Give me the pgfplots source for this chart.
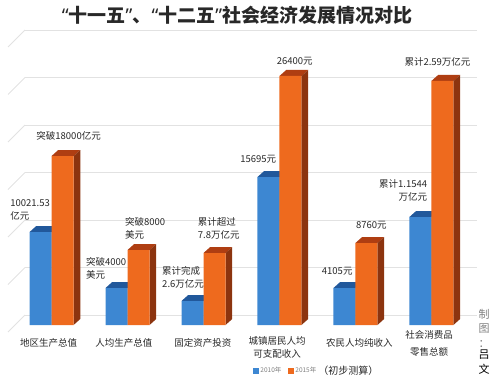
\documentclass[border=0pt]{standalone}
\usepackage{pgfplots}
\pgfplotsset{compat=1.18}
\usepackage{fontspec}
\setmainfont{Noto Sans CJK SC}
\newfontfamily\latinq{Noto Sans}
\definecolor{bfront}{RGB}{61,135,210}
\definecolor{btop}{RGB}{33,88,155}
\definecolor{bside}{RGB}{40,95,160}
\definecolor{ofront}{RGB}{238,106,30}
\definecolor{otop}{RGB}{175,62,18}
\definecolor{oside}{RGB}{140,52,15}
\definecolor{gridc}{RGB}{226,226,226}
\definecolor{txt}{RGB}{40,40,40}
\newcommand\threeD[4]{%
  \pgfmathsetmacro\xL{#1}\pgfmathsetmacro\xR{#1+0.2895}%
  \pgfmathsetmacro\xLd{#1+0.088}\pgfmathsetmacro\xRd{#1+0.2895+0.088}%
  \pgfmathsetmacro\hT{#2+6}%
  \edef\tmp{\noexpand\addplot[draw=none,fill=#3,forget plot,mark=none] coordinates {(\xL,#2) (\xR,#2) (\xRd,\hT) (\xLd,\hT) (\xL,#2)};
    \noexpand\addplot[draw=none,fill=#4,forget plot,mark=none] coordinates {(\xR,0) (\xRd,6) (\xRd,\hT) (\xR,#2) (\xR,0)};}%
  \tmp}
\newcommand\lab{\fontsize{9.5}{13}\selectfont}
\begin{document}
\begin{tikzpicture}
\path[use as bounding box] (0,0) rectangle (494pt,375pt);
\node[font=\fontsize{19}{21}\selectfont\bfseries, text=txt, inner sep=0pt] at (237pt,360pt) {{\latinq “}十一五{\latinq ”}、{\latinq “}十二五{\latinq ”}社会经济发展情况对比};
\begin{axis}[at={(25pt,50pt)}, anchor=south west, scale only axis,
  width=452pt, height=300pt, xmin=-0.35, xmax=5.6, ymin=0, ymax=300,
  axis line style={draw=none}, major tick length=0pt,
  xtick=\empty, ytick={10,57.5,105,152.5,200,247.5,295}, yticklabels={},
  ymajorgrids, grid style={gridc, line width=0.8pt},
  clip=false,
  legend style={at={(axis description cs:0.505,-0.153)}, anchor=west, draw=none, fill=none,
    legend columns=-1, font=\fontsize{6.5}{7}\selectfont, text=gray, inner sep=0pt,
    /tikz/every even column/.append style={column sep=5pt}},
  legend cell align=left]
% 3D faces of 2010 bars
\threeD{-0.2895}{93}{btop}{bside}
\threeD{0.7105}{37}{btop}{bside}
\threeD{1.7105}{24}{btop}{bside}
\threeD{2.7105}{148}{btop}{bside}
\threeD{3.7105}{37}{btop}{bside}
\threeD{4.7105}{108}{btop}{bside}
\addplot[ybar, bar width=22pt, bar shift=-11pt, fill=bfront, draw=none, forget plot]
  coordinates {(0,93) (1,37) (2,24) (3,148) (4,37) (5,108)};
% 3D faces of 2015 bars
\threeD{0}{169}{otop}{oside}
\threeD{1}{75}{otop}{oside}
\threeD{2}{72}{otop}{oside}
\threeD{3}{249}{otop}{oside}
\threeD{4}{82}{otop}{oside}
\threeD{5}{244}{otop}{oside}
\addplot[ybar, bar width=22pt, bar shift=11pt, fill=ofront, draw=none, forget plot]
  coordinates {(0,169) (1,75) (2,72) (3,249) (4,82) (5,244)};
\addlegendimage{legend image code/.code={\fill[bfront] (0pt,-2.3pt) rectangle (4.6pt,2.3pt);}}
\addlegendentry{2010年}
\addlegendimage{legend image code/.code={\fill[ofront] (0pt,-2.3pt) rectangle (4.6pt,2.3pt);}}
\addlegendentry{2015年}
\addlegendimage{empty legend}
\addlegendentry{\hspace*{-7pt}\fontsize{10}{10}\selectfont\textcolor{txt}{（初步测算）}}
% grid diagonals
\draw[gridc, line width=0.8pt] (axis cs:-0.35,10) -- ++(-17pt,-17pt);
\draw[gridc, line width=0.8pt] (axis cs:-0.35,57.5) -- ++(-17pt,-17pt);
\draw[gridc, line width=0.8pt] (axis cs:-0.35,105) -- ++(-17pt,-17pt);
\draw[gridc, line width=0.8pt] (axis cs:-0.35,152.5) -- ++(-17pt,-17pt);
\draw[gridc, line width=0.8pt] (axis cs:-0.35,200) -- ++(-17pt,-17pt);
\draw[gridc, line width=0.8pt] (axis cs:-0.35,247.5) -- ++(-17pt,-17pt);
\draw[gridc, line width=0.8pt] (axis cs:-0.35,295) -- ++(-17pt,-17pt);
% data labels
\node[font=\lab, text=txt] at (axis cs:0.224,189) {突破18000亿元};
\node[font=\lab, text=txt, anchor=west, align=left] at (axis cs:-0.59,115) {10021.53\\亿元};
\node[font=\lab, text=txt, anchor=west, align=left] at (axis cs:0.92,97) {突破8000\\美元};
\node[font=\lab, text=txt, anchor=west, align=left] at (axis cs:0.408,57) {突破4000\\美元};
\node[font=\lab, text=txt, anchor=west, align=left] at (axis cs:1.88,97) {累计超过\\7.8万亿元};
\node[font=\lab, text=txt, anchor=west, align=left] at (axis cs:1.41,48) {累计完成\\2.6万亿元};
\node[font=\lab, text=txt] at (axis cs:3.2,264) {26400元};
\node[font=\lab, text=txt] at (axis cs:2.72,166) {15695元};
\node[font=\lab, text=txt] at (axis cs:5.08,263) {累计2.59万亿元};
\node[font=\lab, text=txt, anchor=east, align=right] at (axis cs:4.99,135) {累计1.1544\\万亿元};
\node[font=\lab, text=txt] at (axis cs:4.21,100) {8760元};
\node[font=\lab, text=txt] at (axis cs:3.76,54) {4105元};
% category labels
\node[font=\lab, text=txt] at (axis cs:-0.04,-18) {地区生产总值};
\node[font=\lab, text=txt] at (axis cs:0.95,-18) {人均生产总值};
\node[font=\lab, text=txt] at (axis cs:1.99,-18) {固定资产投资};
\node[font=\lab, text=txt] at (axis cs:2.97,-16) {城镇居民人均};
\node[font=\lab, text=txt] at (axis cs:2.97,-29) {可支配收入};
\node[font=\lab, text=txt] at (axis cs:4.05,-18) {农民人均纯收入};
\node[font=\lab, text=txt] at (axis cs:4.97,-10) {社会消费品};
\node[font=\lab, text=txt] at (axis cs:4.97,-27) {零售总额};
\end{axis}
\node[font=\fontsize{11}{14.5}\selectfont, align=center, text=gray] at (484pt,47pt) {制\\图\\：};
\node[font=\fontsize{11}{14.5}\selectfont, align=center, text=black] at (484pt,13pt) {吕\\文};
\end{tikzpicture}
\end{document}
